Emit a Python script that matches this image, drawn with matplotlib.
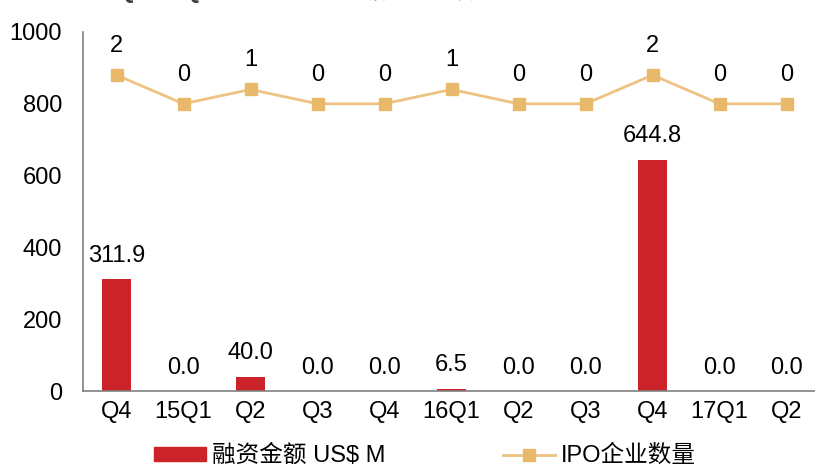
import matplotlib.pyplot as plt
from matplotlib.patches import Patch
from matplotlib.lines import Line2D

plt.rcParams['font.family'] = ['Liberation Sans', 'Noto Sans CJK SC', 'DejaVu Sans']

# data
quarters = ['Q4', '15Q1', 'Q2', 'Q3', 'Q4', '16Q1', 'Q2', 'Q3', 'Q4', '17Q1', 'Q2']
funding = [311.9, 0.0, 40.0, 0.0, 0.0, 6.5, 0.0, 0.0, 644.8, 0.0, 0.0]
ipo_count = [2, 0, 1, 0, 0, 1, 0, 0, 2, 0, 0]

bar_color = '#CC2229'
line_color = '#EDC283'
marker_color = '#E8B96A'
fs = 17

fig = plt.figure(figsize=(8.15, 4.68), dpi=100)
ax = fig.add_axes([83/815, 1 - 391/468, (820 - 83)/815, (391 - 32)/468])

x = list(range(len(quarters)))
ax.bar(x, funding, width=0.43, color=bar_color)
for xi, v in zip(x, funding):
    ax.annotate(f'{v:.1f}', (xi, v), xytext=(0, 9), textcoords='offset points',
                ha='center', va='bottom', fontsize=fs)

ax.set_xlim(-0.5, len(quarters) - 0.5)
ax.set_ylim(0, 1000)
ax.set_yticks(range(0, 1001, 200))
ax.set_xticks(x)
ax.set_xticklabels(quarters)
ax.tick_params(axis='both', length=0, labelsize=fs, pad=7)
ax.tick_params(axis='y', pad=15)
for s in ['top', 'right']:
    ax.spines[s].set_visible(False)
for s in ['left', 'bottom']:
    ax.spines[s].set_color('#808080')
    ax.spines[s].set_linewidth(1.2)

# IPO count on a hidden secondary axis
ax2 = ax.twinx()
ax2.set_ylim(-20, 5)
ax2.plot(x, ipo_count, color=line_color, linewidth=2, marker='s', markersize=8.5,
         markerfacecolor=marker_color, markeredgecolor=marker_color)
for xi, c in zip(x, ipo_count):
    ax2.annotate(str(c), (xi, c), xytext=(0, 13), textcoords='offset points',
                 ha='center', va='bottom', fontsize=fs)
ax2.axis('off')

# title (cut off at top of the picture, as in the source image)
fig.text(330/815, 1 + 2/468, '14Q4-17Q2 中国移动医疗领域IPO及融资规模', ha='center',
         va='baseline', fontsize=17, color='#404040', fontweight='bold')

handles = [Patch(color=bar_color),
           Line2D([0], [0], color=line_color, linewidth=2, marker='s', markersize=8.5,
                  markerfacecolor=marker_color, markeredgecolor=marker_color)]
fig.legend(handles, ['融资金额 US$ M', 'IPO企业数量'], loc='center',
           bbox_to_anchor=(425/815, 1 - 456/468), ncol=2, frameon=False,
           fontsize=fs, handlelength=2.2, handleheight=0.5, columnspacing=5.0,
           handletextpad=0.25)

fig.savefig('out.png', dpi=100)
